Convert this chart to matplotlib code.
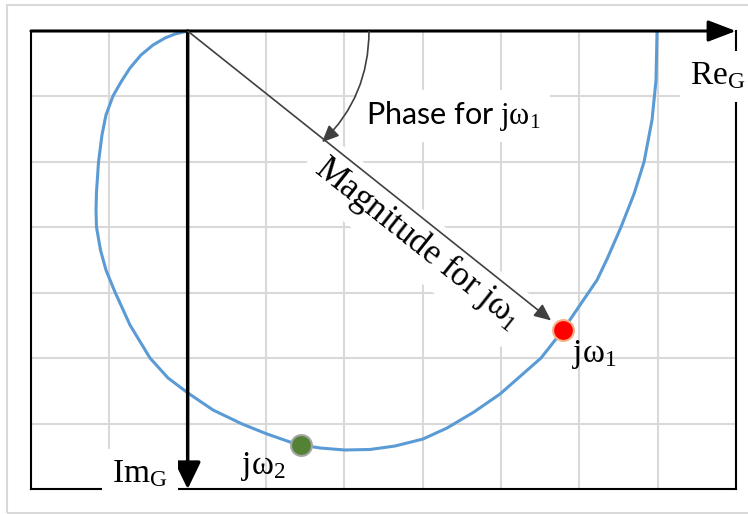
import matplotlib
matplotlib.use("Agg")
import matplotlib.pyplot as plt
from matplotlib.patches import FancyArrowPatch, Rectangle

plt.rcParams["mathtext.fontset"] = "custom"
plt.rcParams["mathtext.rm"] = "Liberation Serif"
plt.rcParams["mathtext.it"] = "Liberation Serif"

# grid size (cells) and where the imaginary axis sits
n_cols = 9
n_rows = 7
im_axis_x = 2

# polar plot of G(jw): real part to the right, imaginary part downwards
curve_re = [2.0, 1.838, 1.711, 1.558, 1.404, 1.264, 1.149, 1.047, 0.957, 0.906,
            0.862, 0.836, 0.830, 0.836, 0.887, 0.957, 1.072, 1.264, 1.519, 1.749,
            2.004, 2.323, 2.694, 3.013, 3.307, 3.447, 3.689, 4.009, 4.328, 4.647,
            5.004, 5.311, 5.655, 5.988, 6.511, 6.792, 7.009, 7.226, 7.354, 7.532,
            7.698, 7.826, 7.928, 7.979, 7.992]
curve_im = [0.0, 0.046, 0.107, 0.214, 0.367, 0.565, 0.779, 0.993, 1.284, 1.589,
            2.002, 2.461, 2.736, 2.996, 3.347, 3.653, 3.989, 4.494, 4.998, 5.303,
            5.533, 5.792, 6.006, 6.159, 6.282, 6.327, 6.373, 6.404, 6.396, 6.343,
            6.236, 6.068, 5.823, 5.548, 4.998, 4.570, 4.188, 3.806, 3.485, 2.996,
            2.491, 2.002, 1.360, 0.749, 0.0]

# two marked frequencies on the curve
w_re = [6.792, 3.447]
w_im = [4.570, 6.327]
w_labels = [r"$\mathrm{j}\omega_{1}$", r"$\mathrm{j}\omega_{2}$"]
w_fill = ["#ff0000", "#548235"]
w_edge = ["#f4b183", "#a5a5a5"]

fig = plt.figure(figsize=(7.48, 5.14), dpi=100)
ax = fig.add_axes([31 / 748, 25 / 514, 705 / 748, 458 / 514])
ax.set_xlim(0, n_cols)
ax.set_ylim(n_rows, 0)
ax.set_xticks(range(n_cols + 1))
ax.set_yticks(range(n_rows + 1))
ax.tick_params(length=0, labelbottom=False, labelleft=False)
ax.grid(True, color="#d9d9d9", lw=1.5)
ax.set_axisbelow(True)
for side in ["left", "right", "bottom"]:
    ax.spines[side].set_linewidth(1.5)
ax.spines["top"].set_visible(False)

# light frame round the whole drawing
fig.patches.append(Rectangle((7 / 748, 1 / 514), 1.2, 508 / 514,
                             transform=fig.transFigure, fill=False,
                             ec="#d9d9d9", lw=1.5))

white = dict(facecolor="white", edgecolor="none", boxstyle="square,pad=0.3")

# axes arrows
re_arrow = FancyArrowPatch((0, 0), (n_cols, 0), arrowstyle="-|>,head_length=1.7,head_width=0.65",
                           mutation_scale=10, color="black", lw=2.2,
                           shrinkA=0, shrinkB=0, clip_on=False, zorder=3)
ax.add_patch(re_arrow)
im_arrow = FancyArrowPatch((im_axis_x, 0), (im_axis_x, n_rows),
                           arrowstyle="-|>,head_length=1.65,head_width=0.8",
                           mutation_scale=10, color="black", lw=2.5,
                           shrinkA=0, shrinkB=0, clip_on=False, zorder=3)
ax.add_patch(im_arrow)

ax.text(8.77, 0.69, r"Re$_{\mathrm{G}}$", family="Liberation Serif", fontsize=24,
        ha="center", va="center", bbox=white, zorder=4, clip_on=False)
ax.text(1.39, 6.77, r"Im$_{\mathrm{G}}$", family="Liberation Serif", fontsize=24,
        ha="center", va="center", bbox=white, zorder=4, clip_on=False)

# the curve and its points
ax.plot(curve_re, curve_im, color="#5b9bd5", lw=2.2, zorder=2,
        solid_joinstyle="round", solid_capstyle="round")
for x, y, fc, ec in zip(w_re, w_im, w_fill, w_edge):
    ax.plot(x, y, "o", ms=15, mfc=fc, mec=ec, mew=1.5, zorder=5)
ax.text(7.19, 4.94, w_labels[0], fontsize=24, ha="center", va="center", zorder=4)
ax.text(2.96, 6.65, w_labels[1], fontsize=24, ha="center", va="center", zorder=4)

# magnitude vector to jw1
mag_arrow = FancyArrowPatch((im_axis_x, 0), (w_re[0], w_im[0]),
                            arrowstyle="-|>,head_length=0.85,head_width=0.38",
                            mutation_scale=12, color="#404040", lw=1.2,
                            shrinkA=0, shrinkB=11, zorder=3)
ax.add_patch(mag_arrow)
ax.text(4.94, 3.24, r"Magnitude for $\mathrm{j}\omega_{1}$", family="Liberation Serif",
        fontsize=25, rotation=-38.5, rotation_mode="anchor",
        ha="center", va="center", bbox=white, zorder=1)

# phase angle arc
phase_arrow = FancyArrowPatch((4.315, 0), (3.715, 1.70), connectionstyle="arc3,rad=-0.21",
                              arrowstyle="-|>,head_length=0.85,head_width=0.38",
                              mutation_scale=12, color="#404040", lw=1.2,
                              shrinkA=0, shrinkB=0, zorder=3)
ax.add_patch(phase_arrow)
ax.text(5.39, 1.30, r"Phase for $\mathrm{j}\omega_{1}$", family=["Lato", "DejaVu Sans"],
        fontsize=22, ha="center", va="center", bbox=white, zorder=1)

fig.savefig("out.png", dpi=100)
